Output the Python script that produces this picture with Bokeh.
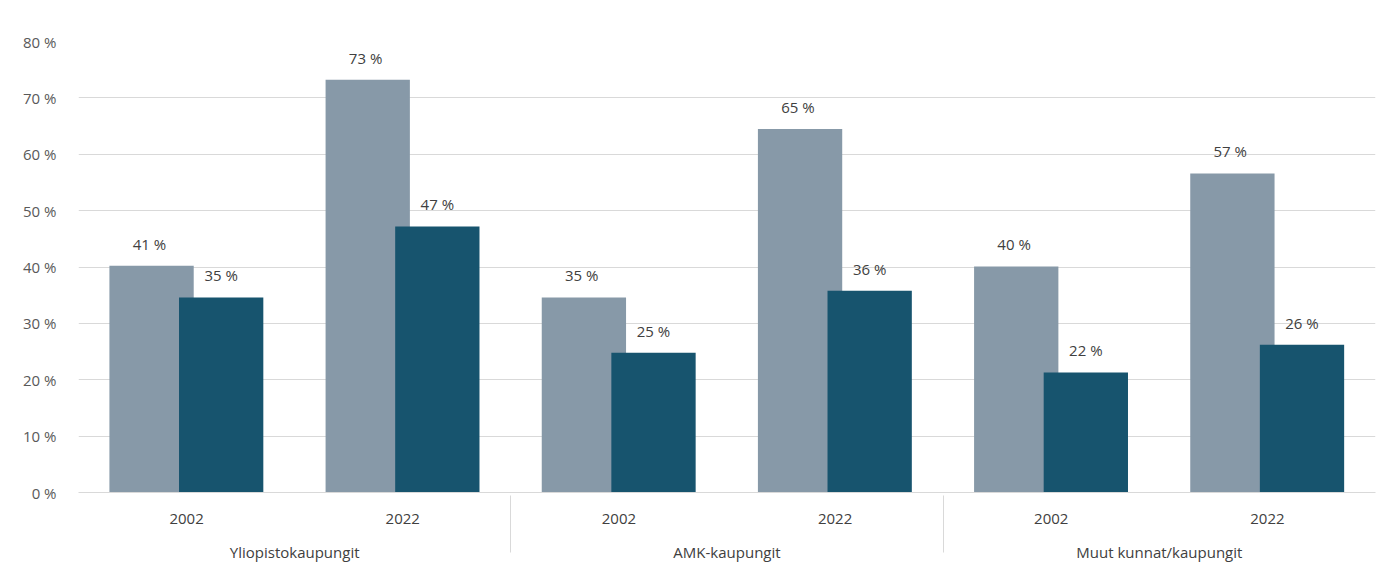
from bokeh.plotting import figure
from bokeh.models import FactorRange, ColumnDataSource, PrintfTickFormatter, FixedTicker
from bokeh.transform import dodge
from bokeh.core.properties import value
from bokeh.embed import file_html
from bokeh.resources import INLINE

groups = ["Yliopistokaupungit", "AMK-kaupungit", "Muut kunnat/kaupungit"]
years = ["2002", "2022"]
series_a = [40.2, 73.2, 34.6, 64.5, 40.1, 56.6]
series_b = [34.6, 47.2, 24.8, 35.8, 21.3, 26.2]
labels_a = ["41 %", "73 %", "35 %", "65 %", "40 %", "57 %"]
labels_b = ["35 %", "47 %", "25 %", "36 %", "22 %", "26 %"]
y_ticks = [0, 10, 20, 30, 40, 50, 60, 70, 80]

FONT = "Open Sans"
FS = "15px"
factors = [(g, y) for g in groups for y in years]
src = ColumnDataSource(dict(x=factors, a=series_a, b=series_b, la=labels_a, lb=labels_b))

p = figure(x_range=FactorRange(*factors, group_padding=0, range_padding=0),
           y_range=(0, 80), width=1390, height=572,
           output_backend="svg", toolbar_location=None,
           min_border_left=78, min_border_right=15, min_border_top=41, min_border_bottom=80)
p.outline_line_color = None
p.background_fill_color = "white"
p.border_fill_color = "white"

p.vbar(x=dodge("x", -0.162, range=p.x_range), top="a", width=0.39, source=src,
       fill_color="#8799a8", line_color=None)
p.vbar(x=dodge("x", 0.16, range=p.x_range), top="b", width=0.39, source=src,
       fill_color="#17546e", line_color=None)

p.text(x=dodge("x", -0.172, range=p.x_range), y="a", text="la", source=src,
       text_align="center", text_baseline="bottom", y_offset=-12,
       text_font=value(FONT), text_font_size=FS, text_color="#404040")
p.text(x=dodge("x", 0.16, range=p.x_range), y="b", text="lb", source=src,
       text_align="center", text_baseline="bottom", y_offset=-12,
       text_font=value(FONT), text_font_size=FS, text_color="#404040")

p.xgrid.grid_line_color = None
p.ygrid.grid_line_color = "#d9d9d9"
p.ygrid.ticker = FixedTicker(ticks=y_ticks)

ya = p.yaxis[0]
ya.ticker = FixedTicker(ticks=y_ticks)
ya.formatter = PrintfTickFormatter(format="%d %%")
ya.axis_line_color = None
ya.major_tick_line_color = None
ya.minor_tick_line_color = None
ya.major_label_standoff = 16
ya.major_label_text_font = FONT
ya.major_label_text_font_size = FS
ya.major_label_text_color = "#595959"

xa = p.xaxis[0]
xa.axis_line_color = "#d9d9d9"
xa.major_tick_line_color = None
xa.minor_tick_line_color = None
xa.major_label_text_font = FONT
xa.major_label_text_font_size = FS
xa.major_label_text_color = "#404040"
xa.major_label_standoff = 15
xa.group_text_font = FONT
xa.group_text_font_size = FS
xa.group_text_font_style = "normal"
xa.group_text_color = "#404040"
xa.group_label_orientation = "horizontal"
xa.separator_line_color = "#d9d9d9"
xa.separator_line_width = 1

open("out.html", "w").write(file_html(p, INLINE))
